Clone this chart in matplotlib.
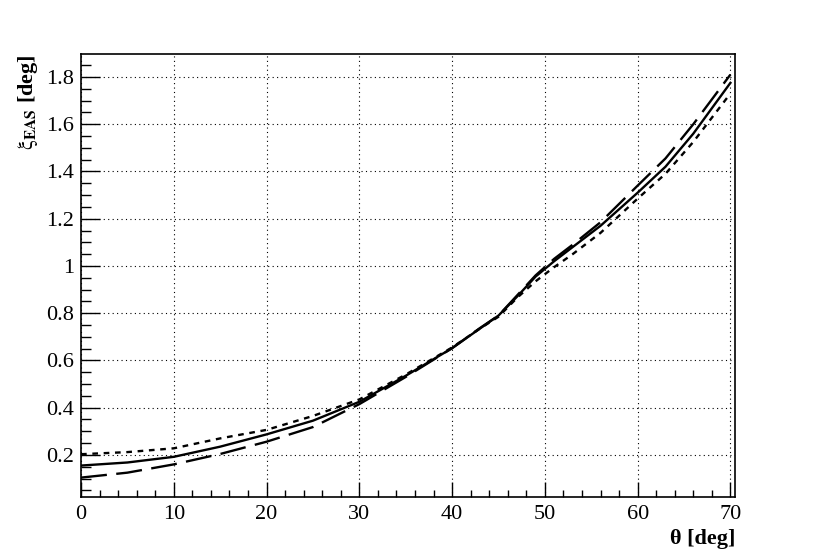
import matplotlib
matplotlib.use("Agg")
import matplotlib.pyplot as plt
from matplotlib.ticker import MultipleLocator

plt.rcParams['font.family'] = ['Liberation Serif', 'DejaVu Serif']
plt.rcParams['mathtext.fontset'] = 'stix'

# valeurs
theta = [0, 5, 10, 15, 20, 25, 30, 35, 40, 43, 45, 47, 49, 51, 53, 56, 60, 63, 66, 70]
xi_solid = [0.155, 0.168, 0.192, 0.235, 0.287, 0.345, 0.425, 0.535, 0.652, 0.735,
            0.79, 0.87, 0.955, 1.02, 1.08, 1.17, 1.31, 1.42, 1.56, 1.775]
xi_dotted = [0.203, 0.212, 0.228, 0.27, 0.306, 0.365, 0.435, 0.54, 0.655, 0.735,
             0.785, 0.865, 0.935, 0.995, 1.05, 1.14, 1.285, 1.39, 1.525, 1.73]
xi_dashed = [0.104, 0.125, 0.16, 0.204, 0.256, 0.318, 0.415, 0.53, 0.652, 0.737,
             0.79, 0.875, 0.96, 1.03, 1.09, 1.185, 1.34, 1.455, 1.60, 1.81]

fig = plt.figure(figsize=(8.16, 5.53), dpi=100)
ax = fig.add_axes([0.0993, 0.1013, 0.8015, 0.801])

ax.plot(theta, xi_dotted, color='black', lw=1.7, linestyle=(0, (2.4, 2.4)))
ax.plot(theta, xi_solid, color='black', lw=1.7, linestyle='-')
ax.plot(theta, xi_dashed, color='black', lw=1.7, linestyle=(0, (11, 4)))

ax.set_xlim(0, 70.5)
ax.set_ylim(0.022, 1.897)

# grille pointillée style ROOT
ax.grid(True, which='major', color='black', lw=0.8, linestyle=(0, (1, 3)))
ax.set_axisbelow(True)

ax.xaxis.set_major_locator(MultipleLocator(10))
ax.xaxis.set_minor_locator(MultipleLocator(2))
ax.yaxis.set_major_locator(MultipleLocator(0.2))
ax.yaxis.set_minor_locator(MultipleLocator(0.05))
ax.yaxis.set_major_formatter(plt.FuncFormatter(lambda v, p: ('%g' % round(v, 2))))

ax.tick_params(axis='x', which='major', direction='in', length=10.5, width=1, labelsize=16, pad=6)
ax.tick_params(axis='x', which='minor', direction='in', length=5.2, width=1)
ax.tick_params(axis='y', which='major', direction='in', length=14, width=1, labelsize=16, pad=5)
ax.tick_params(axis='y', which='minor', direction='in', length=7, width=1)

for s in ax.spines.values():
    s.set_linewidth(1.2)

ax.text(1.0, -0.095, 'θ [deg]', transform=ax.transAxes, ha='right', va='center',
        fontsize=16, fontweight='bold')
ax.text(-0.081, 1.0, r'$\mathrm{\xi}_{\mathbf{EAS}}$ [deg]', transform=ax.transAxes, ha='center',
        va='top', rotation=90, fontsize=16, fontweight='bold')

fig.savefig('out.png', dpi=100)
